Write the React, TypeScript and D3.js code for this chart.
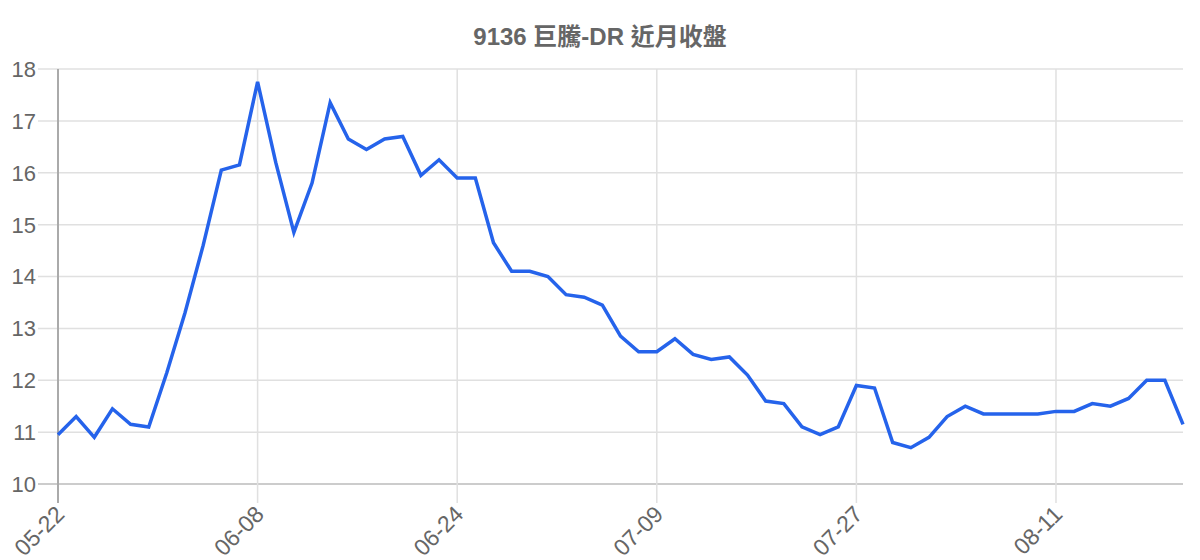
import React from "react";
import * as d3 from "d3";

const title = "9136 巨騰-DR 近月收盤";
const closes: number[] = [
  10.95, 11.3, 10.9, 11.45, 11.15, 11.1, 12.15, 13.3, 14.6, 16.05, 16.15,
  17.75, 16.2, 14.85, 15.8, 17.35, 16.65, 16.45, 16.65, 16.7, 15.95, 16.25,
  15.9, 15.9, 14.65, 14.1, 14.1, 14.0, 13.65, 13.6, 13.45, 12.85, 12.55,
  12.55, 12.8, 12.5, 12.4, 12.45, 12.1, 11.6, 11.55, 11.1, 10.95, 11.1,
  11.9, 11.85, 10.8, 10.7, 10.9, 11.3, 11.5, 11.35, 11.35, 11.35, 11.35,
  11.4, 11.4, 11.55, 11.5, 11.65, 12.0, 12.0, 11.15,
];
const xTickLabels = ["05-22", "06-08", "06-24", "07-09", "07-27", "08-11"];
const xTickStep = 11;
const yTicks = [10, 11, 12, 13, 14, 15, 16, 17, 18];

const W = 1200;
const H = 560;
const m = { left: 58, right: 17, top: 69, bottom: 76 };
const FONT = '"Liberation Sans", Arial, "Noto Sans CJK TC", sans-serif';

export default function App() {
  const x = d3
    .scaleLinear()
    .domain([0, closes.length - 1])
    .range([m.left, W - m.right]);
  const y = d3.scaleLinear().domain([10, 18]).range([H - m.bottom, m.top]);
  const line = d3
    .line<number>()
    .x((_, i) => x(i))
    .y((d) => y(d));
  const x0 = m.left;
  const x1 = W - m.right;
  const yb = y(10);

  return (
    <svg
      width={W}
      height={H}
      style={{ position: "absolute", left: 0, top: 0, background: "#fff" }}
      fontFamily={FONT}
    >
      <text
        x={W / 2}
        y={45}
        textAnchor="middle"
        fontSize={24}
        fontWeight="bold"
        fill="#666"
      >
        {title}
      </text>
      {yTicks.map((t) => (
        <g key={t}>
          <line
            x1={x0 - 20}
            x2={x1}
            y1={y(t)}
            y2={y(t)}
            stroke={t === 10 ? "#ccc" : "#e0e0e0"}
            strokeWidth={t === 10 ? 2 : 1.5}
          />
          <text
            x={x0 - 22}
            y={y(t)}
            dy="0.36em"
            textAnchor="end"
            fontSize={22}
            fill="#666"
          >
            {t}
          </text>
        </g>
      ))}
      {xTickLabels.map((lab, k) => {
        const xi = x(k * xTickStep);
        return (
          <g key={lab}>
            <line
              x1={xi}
              x2={xi}
              y1={m.top}
              y2={yb + 19}
              stroke={k === 0 ? "#aaa" : "#e0e0e0"}
              strokeWidth={k === 0 ? 2 : 1.5}
            />
            <text
              transform={`translate(${xi + 2},${yb + 26}) rotate(-45)`}
              textAnchor="end"
              fontSize={23}
              fill="#666"
              dy="0.35em"
            >
              {lab}
            </text>
          </g>
        );
      })}
      <path
        d={line(closes) || ""}
        fill="none"
        stroke="#2563eb"
        strokeWidth={3.5}
        strokeLinejoin="miter"
      />
    </svg>
  );
}
